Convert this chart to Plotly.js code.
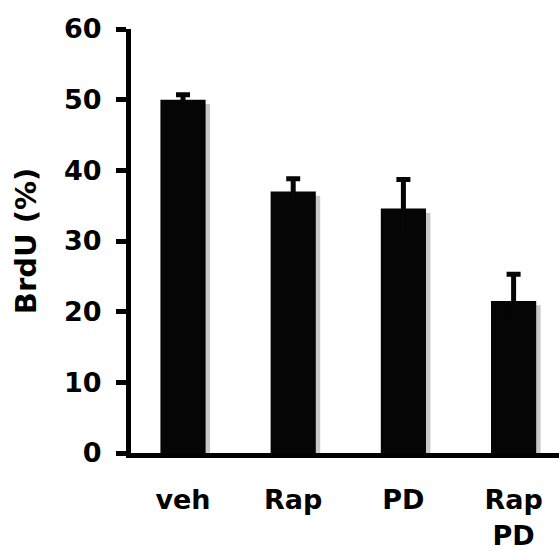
<!DOCTYPE html>
<html>
<head>
<meta charset="utf-8">
<script src="https://cdn.plot.ly/plotly-3.0.1.min.js"></script>
<style>
  html, body { margin: 0; padding: 0; background: #fff; }
  #chart { width: 559px; height: 555px; }
</style>
</head>
<body>
<div id="chart"></div>
<script>
const categories = ['veh', 'Rap', 'PD', 'Rap<br>PD'];
const brduValues = [50.0, 37.0, 34.6, 21.5];
const brduErrors = [0.7, 1.8, 4.1, 3.8];
const yTickValues = [0, 10, 20, 30, 40, 50, 60];
const yTickLabels = ['0', '10', '20', '30', '40', '50', '60'];

const FONT = 'DejaVu Sans, Verdana, sans-serif';

const shadow = {
  type: 'bar',
  x: categories,
  y: brduValues,
  yaxis: 'y',
  width: 0.41,
  offset: -0.205 + 0.04,
  marker: { color: '#c9c9c9', line: { width: 0 } },
  hoverinfo: 'skip',
  showlegend: false
};

const bars = {
  type: 'bar',
  x: categories,
  y: brduValues,
  yaxis: 'y2',
  width: 0.41,
  offset: -0.205,
  marker: { color: '#050505', line: { width: 0 } },
  error_y: {
    type: 'data',
    symmetric: true,
    array: brduErrors,
    color: '#050505',
    thickness: 5,
    width: 7
  },
  showlegend: false
};

const layout = {
  width: 559,
  height: 555,
  margin: { l: 131, r: 0, t: 29, b: 102 },
  paper_bgcolor: '#ffffff',
  plot_bgcolor: '#ffffff',
  barmode: 'overlay',
  showlegend: false,
  font: { family: FONT, color: '#000' },
  xaxis: {
    type: 'category',
    range: [-0.472, 3.412],
    showline: true,
    linecolor: '#000',
    linewidth: 5,
    ticks: '',
    showgrid: false,
    zeroline: false,
    tickfont: { family: FONT, size: 27, color: '#000', weight: 'bold' },
    ticklabelstandoff: 19,
    fixedrange: true
  },
  yaxis: {
    range: [0.6, 60.6],
    visible: false,
    showgrid: false,
    zeroline: false,
    fixedrange: true
  },
  yaxis2: {
    overlaying: 'y',
    side: 'left',
    range: [0, 60],
    tickvals: yTickValues,
    ticktext: yTickLabels,
    showline: true,
    linecolor: '#000',
    linewidth: 5,
    ticks: 'outside',
    ticklen: 10,
    tickwidth: 5,
    tickcolor: '#000',
    showgrid: false,
    zeroline: false,
    tickfont: { family: FONT, size: 27, color: '#000', weight: 'bold' },
    ticklabelstandoff: 9,
    title: {
      text: 'BrdU (%)',
      font: { family: FONT, size: 29, color: '#000', weight: 'bold' },
      standoff: 20
    },
    fixedrange: true
  }
};

Plotly.newPlot('chart', [shadow, bars], layout, { displayModeBar: false, staticPlot: true });
</script>
</body>
</html>
